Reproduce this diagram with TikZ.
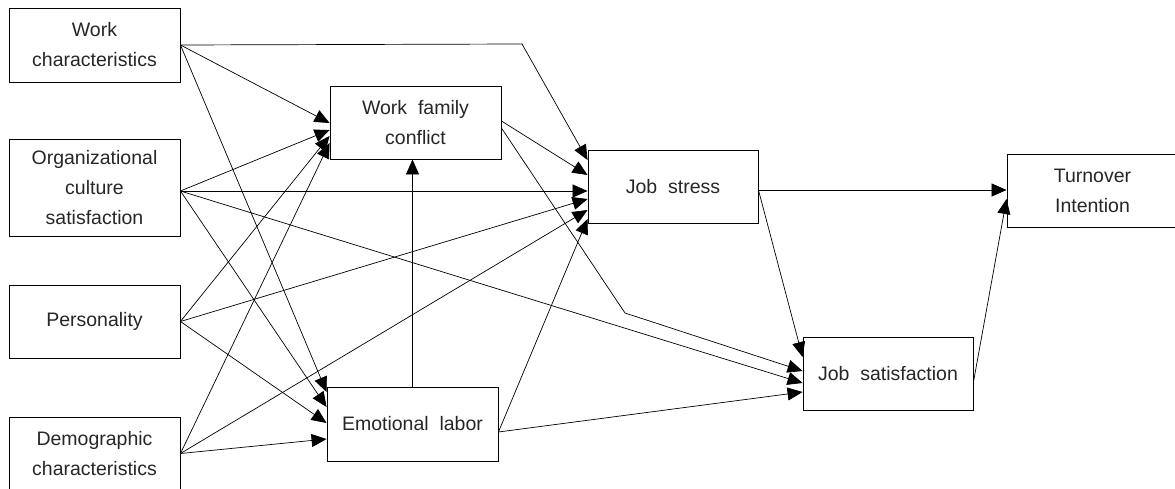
\documentclass[tikz,border=0pt]{standalone}
\usepackage{fontspec}
\setmainfont{Liberation Sans}
\usetikzlibrary{arrows.meta}
\begin{document}
\begin{tikzpicture}[x=1pt,y=-1pt,
  box/.style={draw, line width=0.9pt, inner sep=0pt, minimum width=171pt, minimum height=73pt,
    align=center, font=\fontsize{19.5}{30}\selectfont, text=black!85},
  conn/.style={line width=0.7pt, -{Triangle[length=15pt,width=13pt]}}]
\useasboundingbox (0,0) rectangle (1175,489);
% boxes
\node[box, minimum height=74pt] (wc) at (94.5,45) {Work\\characteristics};
\node[box, minimum height=97pt] (oc) at (94.5,187.5) {Organizational\\culture\\satisfaction};
\node[box] (pers) at (94.5,321.5) {Personality};
\node[box] (demo) at (94.5,453.5) {Demographic\\characteristics};
\node[box] (wfc) at (415.5,122.5) {Work\ \ family\\conflict};
\node[box, minimum height=74pt] (el) at (412.5,424) {Emotional\ \ labor};
\node[box, minimum width=170pt] (js) at (673,186.5) {Job\ \ stress};
\node[box, minimum width=170pt] (jsat) at (888,373.5) {Job\ \ satisfaction};
\node[box] (ti) at (1092.5,191) {Turnover\\Intention};
% bend points
\coordinate (b1) at (522,44);
\coordinate (b2) at (625,313);
% Work characteristics
\draw[conn] (wc.east) -- ([yshift=-0.5pt]wfc.west);
\draw[conn] (wc.east) -- (b1) -- ([yshift=26.5pt]js.west);
\draw[conn] (wc.east) -- ([yshift=32pt]el.west);
% Organizational culture satisfaction
\draw[conn] ([yshift=-3.5pt]oc.east) -- ([yshift=-7.5pt]wfc.west);
\draw[conn] ([yshift=-3.5pt]oc.east) -- ([yshift=-4.5pt]js.west);
\draw[conn] ([yshift=-3.5pt]oc.east) -- ([yshift=17pt]el.west);
\draw[conn] ([yshift=-3.5pt]oc.east) -- ([yshift=-9.5pt]jsat.west);
% Personality
\draw[conn] (pers.east) -- ([yshift=-13.5pt]wfc.west);
\draw[conn] (pers.east) -- ([yshift=-12.5pt]js.west);
\draw[conn] (pers.east) -- ([yshift=1pt]el.west);
% Demographic characteristics
\draw[conn] (demo.east) -- ([yshift=-20.5pt]wfc.west);
\draw[conn] (demo.east) -- ([yshift=-23.5pt]js.west);
\draw[conn] (demo.east) -- ([yshift=-15pt]el.west);
% Work family conflict
\draw[conn] ([yshift=1.5pt]wfc.east) -- ([yshift=11.5pt]js.west);
\draw[conn] ([yshift=-5.5pt]wfc.east) -- (b2) -- ([yshift=2.5pt]jsat.west);
% Emotional labor
\draw[conn] (el.north) -- (el.north |- wfc.south);
\draw[conn] ([yshift=-8pt]el.east) -- ([yshift=-32.5pt]js.west);
\draw[conn] ([yshift=-8pt]el.east) -- ([yshift=-18.5pt]jsat.west);
% Job stress
\draw[conn] ([yshift=-3.5pt]js.east) -- ([yshift=1pt]ti.west);
\draw[conn] ([yshift=-3.5pt]js.east) -- ([yshift=16.5pt]jsat.west);
% Job satisfaction
\draw[conn] ([yshift=-8.5pt]jsat.east) -- ([yshift=-8pt]ti.west);
\end{tikzpicture}
\end{document}
